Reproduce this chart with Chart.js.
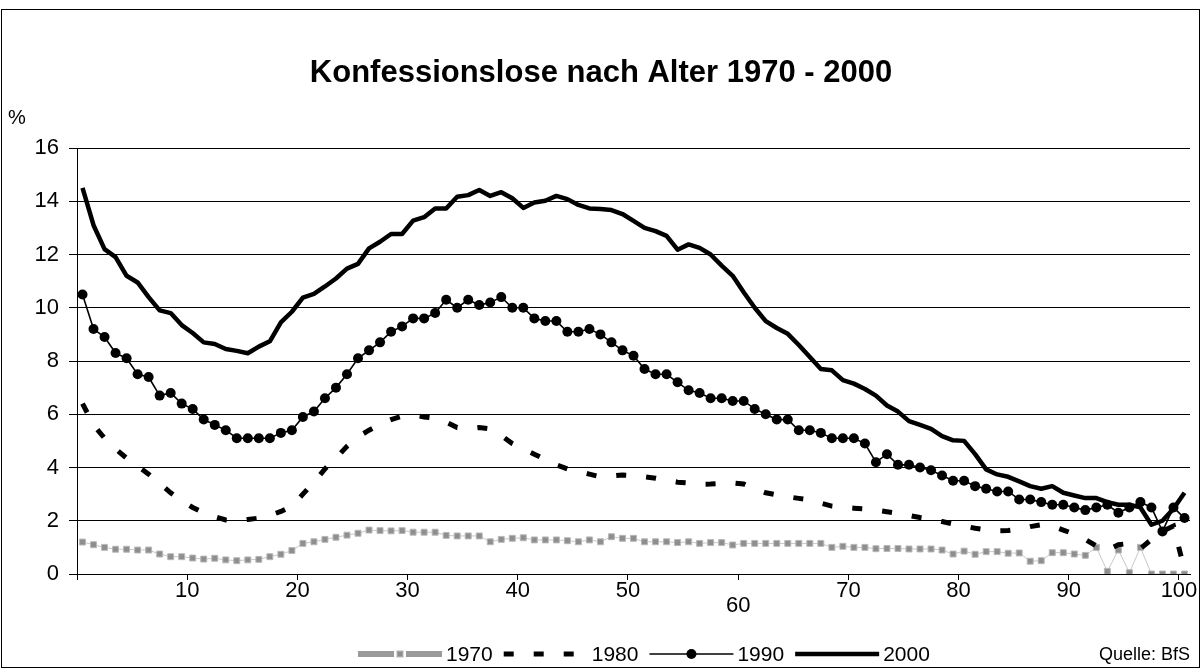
<!DOCTYPE html>
<html><head><meta charset="utf-8">
<script src="https://cdn.jsdelivr.net/npm/chart.js@4/dist/chart.umd.min.js"></script>
<style>html,body{margin:0;padding:0;background:#fff;}#wrap{width:1202px;height:669px;}</style>
</head><body><div id="wrap"><canvas id="c" width="1202" height="669"></canvas></div>
<script>
const titleText = 'Konfessionslose nach Alter 1970 - 2000';
const unitLabel = '%';
const sourceText = 'Quelle: BfS';
const seriesNames = ['1970', '1980', '1990', '2000'];
const ages = ['0','1','2','3','4','5','6','7','8','9','10','11','12','13','14','15','16','17','18','19','20',
'21','22','23','24','25','26','27','28','29','30','31','32','33','34','35','36','37','38','39','40',
'41','42','43','44','45','46','47','48','49','50','51','52','53','54','55','56','57','58','59','60',
'61','62','63','64','65','66','67','68','69','70','71','72','73','74','75','76','77','78','79','80',
'81','82','83','84','85','86','87','88','89','90','91','92','93','94','95','96','97','98','99','100'];
const xTickValues = [10, 20, 30, 40, 50, 60, 70, 80, 90, 100];
const xTickLabels = ['10', '20', '30', '40', '50', '60', '70', '80', '90', '100'];
const yTickLabels = ['0', '2', '4', '6', '8', '10', '12', '14', '16'];

const s1970 = [1.2,1.1,1.0,0.93,0.93,0.9,0.9,0.75,0.65,0.65,
0.6,0.56,0.59,0.53,0.5,0.53,0.55,0.65,0.74,0.88,
1.15,1.21,1.3,1.38,1.46,1.53,1.65,1.63,1.62,1.63,
1.57,1.57,1.57,1.45,1.43,1.43,1.43,1.21,1.3,1.34,
1.36,1.28,1.28,1.28,1.25,1.21,1.28,1.21,1.4,1.34,
1.34,1.21,1.21,1.21,1.18,1.21,1.15,1.18,1.18,1.09,
1.15,1.15,1.15,1.15,1.15,1.15,1.15,1.15,1.0,1.04,
1.0,1.0,0.95,0.96,0.96,0.94,0.94,0.94,0.9,0.75,
0.86,0.74,0.84,0.84,0.78,0.79,0.48,
0.5,0.8,0.8,0.75,0.7,1.0,0.1,0.9,0.05,1.0,0.0,0.0,0.0,0.0];
const s1980 = [6.4,5.6,5.1,4.7,4.35,4.05,3.75,3.4,3.05,2.75,
2.5,2.3,2.15,2.03,2.0,2.05,2.1,2.2,2.35,2.55,
3.0,3.45,3.95,4.35,4.8,5.15,5.4,5.62,5.8,5.93,
5.97,5.9,5.85,5.7,5.5,5.45,5.5,5.45,5.2,4.9,
4.7,4.5,4.3,4.1,3.95,3.85,3.75,3.65,3.68,3.72,
3.7,3.65,3.6,3.52,3.45,3.42,3.37,3.38,3.4,3.42,
3.38,3.2,3.05,2.97,2.9,2.84,2.78,2.66,2.55,2.5,
2.47,2.44,2.4,2.34,2.28,2.2,2.12,2.06,1.97,1.88,
1.8,1.72,1.66,1.62,1.63,1.68,1.78,
1.85,1.8,1.65,1.5,1.3,1.05,0.9,1.1,1.15,0.95,1.3,1.6,1.8,0.15];
const s1990 = [10.5,9.2,8.9,8.3,8.1,7.5,7.4,6.7,6.8,6.4,
6.2,5.8,5.6,5.4,5.1,5.1,5.1,5.1,5.3,5.4,
5.9,6.1,6.6,7.0,7.5,8.1,8.4,8.7,9.1,9.3,
9.6,9.6,9.8,10.3,10.0,10.3,10.1,10.2,10.4,10.0,
10.0,9.6,9.5,9.5,9.1,9.1,9.2,9.0,8.7,8.4,
8.2,7.7,7.5,7.5,7.2,6.9,6.8,6.6,6.6,6.5,
6.5,6.2,6.0,5.8,5.8,5.4,5.4,5.3,5.1,5.1,
5.1,4.9,4.2,4.5,4.1,4.1,4.0,3.9,3.7,3.5,
3.5,3.3,3.2,3.1,3.1,2.8,2.8,
2.7,2.6,2.6,2.5,2.4,2.5,2.6,2.3,2.5,2.7,2.5,1.6,2.5,2.1];
const s2000 = [14.5,13.1,12.2,11.9,11.2,10.95,10.4,9.9,9.8,9.35,
9.05,8.7,8.64,8.45,8.38,8.29,8.54,8.74,9.45,9.85,
10.38,10.52,10.8,11.1,11.47,11.65,12.23,12.48,12.77,12.77,
13.27,13.4,13.73,13.73,14.17,14.23,14.42,14.2,14.34,14.11,
13.75,13.95,14.02,14.2,14.08,13.86,13.73,13.71,13.67,13.52,
13.26,13.0,12.88,12.7,12.18,12.38,12.25,12.0,11.58,11.2,
10.58,10.0,9.5,9.24,9.02,8.6,8.15,7.7,7.65,7.28,
7.15,6.95,6.7,6.33,6.1,5.74,5.6,5.45,5.18,5.02,
5.0,4.5,3.93,3.74,3.65,3.48,3.3,
3.2,3.3,3.05,2.95,2.85,2.85,2.7,2.6,2.6,2.5,1.85,2.0,2.45,3.05];

const FONT = '"Liberation Sans", Arial, sans-serif';

const datasets = [
  { label: seriesNames[0], data: s1970, order: 3,
    borderColor: '#c8c8c8', borderWidth: 1, pointStyle: 'rect', pointRadius: 4.2,
    pointBackgroundColor: '#8e8e8e', pointBorderColor: '#b8b8b8', pointBorderWidth: 1, tension: 0 },
  { label: seriesNames[1], data: s1980, order: 2,
    borderColor: '#000', borderWidth: 5, borderDash: [10, 20], borderCapStyle: 'butt', pointRadius: 0, tension: 0 },
  { label: seriesNames[2], data: s1990, order: 1,
    borderColor: '#000', borderWidth: 1.6, pointStyle: 'circle', pointRadius: 5,
    pointBackgroundColor: '#000', pointBorderColor: '#000', pointBorderWidth: 0, tension: 0 },
  { label: seriesNames[3], data: s2000, order: 0,
    borderColor: '#000', borderWidth: 4.5, borderJoinStyle: 'round', pointRadius: 0, tension: 0 }
];

function drawSwatch(ctx, ds, x0, y, len) {
  ctx.save();
  if (ds.pointStyle === 'rect') {
    const mid = x0 + len / 2;
    ctx.strokeStyle = '#9a9a9a'; ctx.lineWidth = 6; ctx.setLineDash([]);
    ctx.beginPath(); ctx.moveTo(x0, y); ctx.lineTo(mid - 6, y); ctx.moveTo(mid + 6, y); ctx.lineTo(x0 + len, y); ctx.stroke();
    ctx.fillStyle = ds.pointBackgroundColor; ctx.strokeStyle = ds.pointBorderColor; ctx.lineWidth = 1;
    ctx.fillRect(mid - 3, y - 3, 6, 6); ctx.strokeRect(mid - 3, y - 3, 6, 6);
  } else {
    ctx.strokeStyle = ds.borderColor; ctx.lineWidth = ds.borderWidth;
    ctx.setLineDash(ds.borderDash || []); ctx.lineCap = 'butt';
    ctx.beginPath(); ctx.moveTo(x0, y); ctx.lineTo(x0 + len, y); ctx.stroke();
    if (ds.pointRadius > 0) {
      ctx.fillStyle = ds.pointBackgroundColor;
      ctx.beginPath(); ctx.arc(x0 + len / 2, y, ds.pointRadius, 0, Math.PI * 2); ctx.fill();
    }
  }
  ctx.restore();
}

const decor = {
  id: 'decor',
  beforeDraw(chart) {
    const ctx = chart.ctx;
    ctx.save();
    ctx.fillStyle = '#fff'; ctx.fillRect(0, 0, chart.width, chart.height);
    ctx.strokeStyle = '#000'; ctx.lineWidth = 1;
    ctx.strokeRect(1.5, 9.5, 1198, 658);
    ctx.restore();
  },
  afterDraw(chart) {
    const ctx = chart.ctx;
    ctx.save();
    ctx.fillStyle = '#000';
    ctx.textBaseline = 'middle';
    ctx.textAlign = 'center';
    ctx.font = 'bold 31px ' + FONT;
    ctx.fillText(titleText, 601, 73);
    ctx.textAlign = 'left';
    ctx.font = '20px ' + FONT;
    ctx.fillText(unitLabel, 8, 118);
    const ly = 654;
    let x = 358;
    ctx.font = '21px ' + FONT;
    chart.data.datasets.forEach((ds) => {
      drawSwatch(ctx, ds, x, ly, 84);
      x += 88;
      ctx.fillStyle = '#000';
      ctx.fillText(ds.label, x, ly + 1);
      x += ctx.measureText(ds.label).width + 11;
    });
    ctx.font = '18px ' + FONT;
    ctx.textAlign = 'right';
    ctx.fillText(sourceText, 1190, ly + 1);
    ctx.restore();
  }
};

new Chart(document.getElementById('c'), {
  type: 'line',
  data: { labels: ages, datasets },
  options: {
    responsive: false, animation: false, devicePixelRatio: 1,
    layout: { padding: { top: 148, right: 12, left: 0, bottom: 0 } },
    plugins: { legend: { display: false }, title: { display: false }, tooltip: { enabled: false } },
    scales: {
      x: { type: 'category', display: false, offset: true },
      xTicks: {
        type: 'linear', axis: 'x', position: 'bottom', min: 0, max: 101,
        afterFit(s) { s.height = 95; },
        grid: { display: true, drawOnChartArea: false, drawTicks: true, tickLength: 6, color: '#000' },
        border: { display: true, color: '#000', width: 1 },
        ticks: {
          stepSize: 10, includeBounds: false, autoSkip: false, maxRotation: 0, padding: 3,
          color: '#000', font: { family: FONT, size: 22, lineHeight: 0.7 },
          callback(v) {
            const k = xTickValues.indexOf(v);
            if (k < 0) return '';
            return xTickLabels[k] === '60' ? ['', xTickLabels[k]] : xTickLabels[k];
          }
        }
      },
      y: {
        type: 'linear', min: 0, max: 16,
        afterFit(s) { s.width = 77; },
        grid: { color: '#000', lineWidth: 1, tickLength: 8, drawTicks: true },
        border: { display: true, color: '#000', width: 1 },
        ticks: {
          stepSize: 2, padding: 10, color: '#000', font: { family: FONT, size: 22 },
          callback(v) { return yTickLabels[Math.round(v / 2)]; }
        }
      }
    }
  },
  plugins: [decor]
});
</script></body></html>
